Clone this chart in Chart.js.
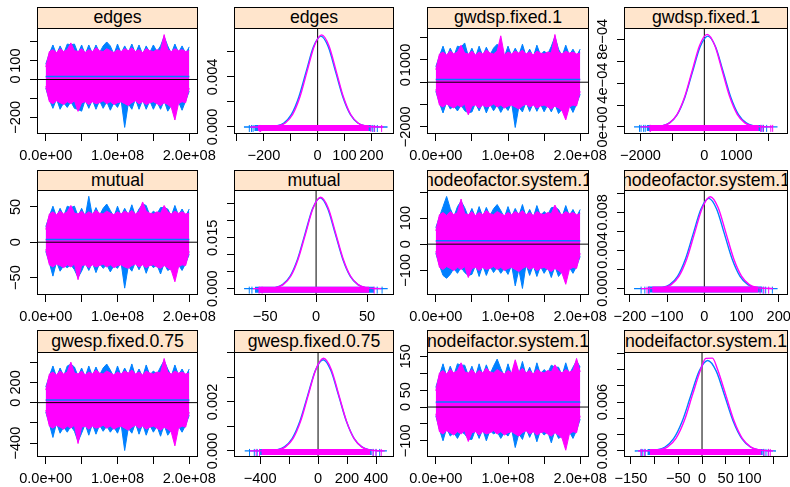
<!DOCTYPE html>
<html>
<head>
<meta charset="utf-8">
<script src="https://cdn.jsdelivr.net/npm/chart.js"></script>
<style>
  body { margin: 0; background: #fff; }
  #wrap { position: relative; width: 790px; height: 487px; overflow: hidden; }
  .strip { position: absolute; box-sizing: border-box; border: 1px solid #000; background: #ffe5cc; overflow: hidden; }
  .strip span { position: absolute; left: 50%; top: 50%; transform: translate(-50%, -52%); white-space: nowrap;
                font: 17.7px "Liberation Sans", Arial, sans-serif; color: #000; }
  canvas { position: absolute; }
</style>
</head>
<body>
<div id="wrap"></div>

<script>
// ---- trace plots: iteration axis (millions), shared by all trace panels
const TRACE_X = [0,5,10,15,20,25,30,35,40,45,50,55,60,65,70,75,80,85,90,95,100,105,110,115,120,125,130,135,140,145,150,155,160,165,170,175,180,185,190,195,200];
const TRACE_XTICKS = [0, 50, 100, 150, 200];
const TRACE_XLABELS = ['0.0e+00', '', '1.0e+08', '', '2.0e+08'];

// edges
const EDGES_BLUE_HI = [81,138,183,133,178,138,188,184,188,138, 183,133,183,138,183,143,178,199,178,133, 188,138,178,143,188,138,183,133,178,143, 183,148,178,228,178,138,188,143,178,138,173];
const EDGES_BLUE_LO = [-46,-108,-153,-103,-158,-123,-148,-118,-153,-159, -168,-108,-153,-108,-158,-113,-153,-118,-163,-123, -148,-108,-254,-128,-158,-103,-158,-108,-158,-113, -158,-118,-158,-113,-168,-138,-160,-118,-163,-113,-62];
const EDGES_MAG_HI = [66,148,158,143,163,148,158,194,153,148, 163,143,158,148,168,153,148,163,153,143, 158,148,163,153,168,148,158,143,163,153, 148,158,153,238,158,148,163,153,158,148,153];
const EDGES_MAG_LO = [-36,-118,-128,-113,-123,-133,-118,-128,-113,-169, -123,-118,-133,-118,-128,-123,-113,-128,-118,-133, -123,-118,-128,-138,-123,-113,-128,-118,-133,-123, -118,-128,-138,-123,-133,-148,-215,-128,-118,-123,-46];
const EDGES_SMOOTH = [16, 14];
const EDGES_TRACE_YTICKS = [-200, -100, 0, 100, 200];
const EDGES_TRACE_YLABELS = ['−200', '', '0', '100', ''];

const EDGES_DENS_BX = [-274,-180.5,-153,-125.5,-98,-70.5,-43,-15.5,12,39.5,67,94.5,122,149.5,177,204.5,260];
const EDGES_DENS_BY = [0,0.000016,0.00008,0.000318,0.000981,0.002354,0.004397,0.006398,0.00725,0.006398,0.004397,0.002354,0.000981,0.000318,0.00008,0.000016,0];
const EDGES_DENS_MX = [-250,-174,-147,-120,-93,-66,-39,-12,15,42,69,96,123,150,177,204,245];
const EDGES_DENS_MY = [0,0.000016,0.000082,0.000323,0.000994,0.002387,0.004458,0.006486,0.00735,0.006486,0.004458,0.002387,0.000994,0.000323,0.000082,0.000016,0];
const EDGES_RUG_CORE = [[-235, 200], [-222, 190]];
const EDGES_RUG_TICKS = [[-254,-246,-240,205,212,222], [-215,-212,198,210,238]];
const EDGES_DENS_XTICKS = [-300, -200, -100, 0, 100, 200];
const EDGES_DENS_XLABELS = ['', '−200', '', '0', '100', '200'];
const EDGES_DENS_YTICKS = [0, 0.002, 0.004, 0.006];
const EDGES_DENS_YLABELS = ['0.000', '', '0.004', ''];

// gwdsp.fixed.1
const GWDSP_BLUE_HI = [692,1174,1617,1130,1526,1174,1617,1570,1760,1174, 1526,1130,1617,1174,1570,1218,1529,1704,1484,1130, 1617,1174,1526,1218,1705,1174,1482,1130,1661,1218, 1394,1262,1608,2048,1482,1174,1661,1218,1482,1174,1484];
const GWDSP_BLUE_LO = [-408,-934,-1377,-890,-1198,-1066,-1289,-1022,-1280,-1374, -1333,-934,-1286,-934,-1377,-978,-1280,-1022,-1354,-1066, -1268,-934,-2029,-1110,-1333,-890,-1312,-934,-1306,-978, -1324,-1022,-1330,-978,-1406,-1198,-1400,-1022,-1354,-978,-540];
const GWDSP_MAG_HI = [560,1264,1352,1220,1396,1264,1352,1660,1308,1264, 1396,1220,1352,1264,1440,1308,1264,1396,2080,1220, 1352,1264,1396,1308,1440,1264,1352,1220,1396,1308, 1264,1352,1308,2138,1352,1264,1396,1308,1352,1264,1308];
const GWDSP_MAG_LO = [-320,-1024,-1112,-980,-1068,-1156,-1024,-1112,-980,-1464, -1068,-1024,-1156,-1024,-1112,-1068,-980,-1112,-1024,-1156, -1068,-1024,-1112,-1200,-1068,-980,-1112,-1024,-1156,-1068, -1024,-1112,-1200,-1068,-1156,-1288,-1690,-1112,-1024,-1068,-408];
const GWDSP_SMOOTH = [125, 118];
const GWDSP_TRACE_YTICKS = [-2000, -1000, 0, 1000, 2000];
const GWDSP_TRACE_YLABELS = ['−2000', '', '0', '1000', ''];

const GWDSP_DENS_BX = [-2200,-1570,-1330,-1090,-850,-610,-370,-130,110,350,590,830,1070,1310,1550,1790,2290];
const GWDSP_DENS_BY = [0,1.8e-6,9.2e-6,3.64e-5,1.123e-4,2.695e-4,5.034e-4,7.325e-4,8.3e-4,7.325e-4,5.034e-4,2.695e-4,1.123e-4,3.64e-5,9.2e-6,1.8e-6,0];
const GWDSP_DENS_MX = [-2000,-1555,-1320,-1085,-850,-615,-380,-145,90,325,560,795,1030,1265,1500,1735,2150];
const GWDSP_DENS_MY = [0,1.9e-6,9.4e-6,3.71e-5,1.145e-4,2.747e-4,5.131e-4,7.466e-4,8.46e-4,7.466e-4,5.131e-4,2.747e-4,1.145e-4,3.71e-5,9.4e-6,1.9e-6,0];
const GWDSP_RUG_CORE = [[-1800, 1750], [-1690, 1700]];
const GWDSP_RUG_TICKS = [[-2029,-1980,-1900,-1850,1780,1850,1950], [-1700,-1690,1760,1830,2080,2138]];
const GWDSP_DENS_XTICKS = [-2000, -1000, 0, 1000, 2000];
const GWDSP_DENS_XLABELS = ['−2000', '', '0', '1000', ''];
const GWDSP_DENS_YTICKS = [0, 2e-4, 4e-4, 6e-4, 8e-4];
const GWDSP_DENS_YLABELS = ['0e+00', '', '4e−04', '', '8e−04'];

// mutual
const MUTUAL_BLUE_HI = [22,37,51,36,48,37,51,49,51,37, 48,36,65,37,49,38,48,54,45,36, 51,37,48,38,53,37,47,54,52,38, 44,40,49,49,47,37,52,38,47,37,47];
const MUTUAL_BLUE_LO = [-13,-29,-48,-28,-41,-33,-36,-32,-39,-50, -41,-29,-40,-29,-43,-30,-37,-32,-42,-33, -37,-29,-65,-34,-41,-28,-39,-29,-44,-30, -36,-32,-45,-30,-40,-37,-44,-32,-40,-30,-17];
const MUTUAL_MAG_HI = [18,40,43,39,44,40,43,52,41,40, 44,39,43,40,45,41,40,44,41,39, 43,40,44,41,45,40,43,57,44,41, 40,43,41,52,43,40,44,41,43,40,41];
const MUTUAL_MAG_LO = [-10,-32,-35,-31,-33,-36,-32,-35,-31,-53, -33,-32,-36,-32,-35,-33,-31,-35,-32,-36, -33,-32,-35,-37,-33,-31,-35,-32,-36,-33, -32,-35,-37,-33,-36,-40,-56,-35,-32,-33,-13];
const MUTUAL_SMOOTH = [4, 3.5];
const MUTUAL_TRACE_YTICKS = [-50, 0, 50];
const MUTUAL_TRACE_YLABELS = ['−50', '0', '50'];

const MUTUAL_DENS_BX = [-70.7,-47.8,-40.4,-33,-25.6,-18.2,-10.8,-3.4,4,11.4,18.8,26.2,33.6,41,48.4,55.8,70.3];
const MUTUAL_DENS_BY = [0,0.000059,0.000297,0.001177,0.003626,0.008702,0.016254,0.023651,0.0268,0.023651,0.016254,0.008702,0.003626,0.001177,0.000297,0.000059,0];
const MUTUAL_DENS_MX = [-62,-46.9,-39.6,-32.3,-24.9,-17.6,-10.2,-2.9,4.5,11.9,19.2,26.6,33.9,41.3,48.6,56,64];
const MUTUAL_DENS_MY = [0,0.000059,0.0003,0.001185,0.003653,0.008767,0.016376,0.023828,0.027,0.023828,0.016376,0.008767,0.003653,0.001185,0.0003,0.000059,0];
const MUTUAL_RUG_CORE = [[-60, 57], [-56, 52]];
const MUTUAL_RUG_TICKS = [[-65.6,-63,60,64.8], [-56,-53,57]];
const MUTUAL_DENS_XTICKS = [-50, 0, 50];
const MUTUAL_DENS_XLABELS = ['−50', '0', '50'];
const MUTUAL_DENS_YTICKS = [0, 0.005, 0.010, 0.015, 0.020, 0.025];
const MUTUAL_DENS_YLABELS = ['0.000', '', '', '0.015', '', ''];

// nodeofactor.system.1
const NOF_BLUE_HI = [63,105,144,183,137,105,144,165,140,105, 137,102,144,105,141,109,136,152,129,102, 144,105,137,109,152,105,133,102,148,109, 125,113,140,142,133,105,148,109,133,105,133];
const NOF_BLUE_LO = [-35,-81,-120,-131,-116,-93,-112,-89,-109,-120, -116,-81,-124,-81,-120,-85,-109,-89,-112,-93, -116,-81,-160,-97,-170,-78,-120,-81,-124,-85, -112,-89,-128,-85,-124,-105,-125,-89,-112,-85,-47];
const NOF_MAG_HI = [51,113,121,110,125,113,121,173,117,113, 125,110,121,113,129,117,113,125,117,110, 121,113,125,117,129,113,121,110,125,117, 113,121,117,150,121,113,125,117,121,113,117];
const NOF_MAG_LO = [-27,-89,-97,-86,-93,-101,-89,-97,-86,-128, -93,-89,-101,-89,-97,-93,-86,-97,-89,-101, -93,-89,-97,-105,-93,-86,-97,-89,-101,-93, -89,-97,-105,-93,-101,-113,-154,-97,-89,-93,-35];
const NOF_SMOOTH = [13, 11];
const NOF_TRACE_YTICKS = [-100, 0, 100, 200];
const NOF_TRACE_YLABELS = ['−100', '0', '100', ''];

const NOF_DENS_BX = [-189,-135,-114,-93,-72,-51,-30,-9,12,33,54,75,96,117,138,159,197];
const NOF_DENS_BY = [0,0.000021,0.000105,0.000415,0.00128,0.003072,0.005737,0.008348,0.00946,0.008348,0.005737,0.003072,0.00128,0.000415,0.000105,0.000021,0];
const NOF_DENS_MX = [-170,-131,-110,-89,-68,-47,-26,-5,16,37,58,79,100,121,142,163,185];
const NOF_DENS_MY = [0,0.000021,0.000107,0.000423,0.001304,0.00313,0.005847,0.008507,0.00964,0.008507,0.005847,0.00313,0.001304,0.000423,0.000107,0.000021,0];
const NOF_RUG_CORE = [[-150, 155], [-140, 145]];
const NOF_RUG_TICKS = [[-170,-160,-150,158,165,183], [-154,-148,150,160,173]];
const NOF_DENS_XTICKS = [-200, -100, 0, 100, 200];
const NOF_DENS_XLABELS = ['−200', '−100', '0', '100', '200'];
const NOF_DENS_YTICKS = [0, 0.002, 0.004, 0.006, 0.008, 0.010];
const NOF_DENS_YLABELS = ['0.000', '', '0.004', '', '0.008', ''];

// gwesp.fixed.0.75
const GWESP_BLUE_HI = [154,262,362,253,342,262,362,380,352,262, 342,253,362,262,352,272,342,381,322,253, 362,262,342,272,382,262,332,253,372,272, 312,282,352,416,332,262,372,272,332,262,332];
const GWESP_BLUE_LO = [-94,-212,-344,-203,-302,-242,-292,-232,-283,-384, -302,-212,-322,-212,-312,-222,-283,-232,-292,-242, -302,-212,-473,-252,-302,-203,-312,-212,-322,-222, -292,-232,-332,-222,-322,-272,-330,-232,-292,-222,-124];
const GWESP_MAG_HI = [124,282,302,273,312,282,302,400,292,282, 312,273,302,282,322,292,282,312,292,273, 302,282,312,292,322,282,302,273,312,292, 282,302,292,436,302,282,312,292,302,282,292];
const GWESP_MAG_LO = [-74,-232,-252,-223,-242,-262,-232,-252,-223,-404, -242,-232,-262,-232,-252,-242,-223,-252,-232,-262, -242,-232,-252,-272,-242,-223,-252,-232,-262,-242, -232,-252,-272,-242,-262,-292,-427,-252,-232,-242,-94];
const GWESP_SMOOTH = [27, 24];
const GWESP_TRACE_YTICKS = [-400, -200, 0, 200, 400];
const GWESP_TRACE_YLABELS = ['−400', '', '0', '200', ''];

const GWESP_DENS_BX = [-506,-339.5,-286,-232.5,-179,-125.5,-72,-18.5,35,88.5,142,195.5,249,302.5,356,409.5,475];
const GWESP_DENS_BY = [0,0.0000082,0.0000413,0.000163,0.000503,0.001208,0.002256,0.003283,0.00372,0.003283,0.002256,0.001208,0.000503,0.000163,0.0000413,0.0000082,0];
const GWESP_DENS_MX = [-470,-329.5,-277,-224.5,-172,-119.5,-67,-14.5,38,90.5,143,195.5,248,300.5,353,405.5,460];
const GWESP_DENS_MY = [0,0.0000083,0.000042,0.000166,0.000511,0.001227,0.002293,0.003336,0.00378,0.003336,0.002293,0.001227,0.000511,0.000166,0.000042,0.0000083,0];
const GWESP_RUG_CORE = [[-400, 370], [-390, 360]];
const GWESP_RUG_TICKS = [[-473,-440,-420,380,400,425], [-427,-404,380,400,436]];
const GWESP_DENS_XTICKS = [-400, -200, 0, 200, 400];
const GWESP_DENS_XLABELS = ['−400', '', '0', '200', '400'];
const GWESP_DENS_YTICKS = [0, 0.001, 0.002, 0.003, 0.004];
const GWESP_DENS_YLABELS = ['0.000', '', '0.002', '', ''];

// nodeifactor.system.1
const NIF_BLUE_HI = [58,94,128,91,121,94,128,124,124,94, 121,91,128,94,125,97,121,142,114,91, 128,94,133,97,135,94,118,91,131,97, 111,101,124,118,118,94,131,97,118,137,118];
const NIF_BLUE_LO = [-26,-66,-100,-63,-86,-76,-93,-73,-80,-95, -96,-66,-93,-66,-100,-69,-80,-73,-93,-76, -86,-66,-120,-79,-96,-63,-90,-66,-103,-69, -83,-73,-106,-69,-93,-86,-100,-73,-93,-69,-36];
const NIF_MAG_HI = [48,101,108,98,111,101,108,131,104,101, 111,98,108,101,115,104,101,111,104,98, 108,101,140,104,115,101,108,98,111,104, 101,108,104,125,108,101,111,104,108,144,104];
const NIF_MAG_LO = [-20,-73,-80,-70,-76,-83,-73,-80,-70,-102, -76,-73,-83,-73,-80,-76,-70,-80,-73,-83, -76,-73,-80,-86,-76,-70,-80,-73,-83,-76, -73,-80,-86,-76,-83,-93,-128,-80,-73,-76,-26];
const NIF_SMOOTH = [15, 13];
const NIF_TRACE_YTICKS = [-100, -50, 0, 50, 100, 150];
const NIF_TRACE_YLABELS = ['−100', '', '0', '50', '', '150'];

const NIF_DENS_BX = [-142,-114,-96,-78,-60,-42,-24,-6,12,30,48,66,84,102,120,138,156];
const NIF_DENS_BY = [0,0.000024,0.000123,0.000487,0.001502,0.003604,0.006732,0.009796,0.0111,0.009796,0.006732,0.003604,0.001502,0.000487,0.000123,0.000024,0];
const NIF_DENS_MX = [-135,-107.5,-90,-72.5,-55,-37.5,-20,-2.5,8,22,32.5,50,67.5,85,102.5,120,137.5,150];
const NIF_DENS_MY = [0,0.000025,0.000126,0.0005,0.001541,0.003698,0.006908,0.010052,0.01136,0.01139,0.010052,0.006908,0.003698,0.001541,0.0005,0.000126,0.000025,0];
const NIF_RUG_CORE = [[-115, 128], [-110, 125]];
const NIF_RUG_TICKS = [[-129,-125,-120,130,135,140], [-128,-121,131,140,144]];
const NIF_DENS_XTICKS = [-150, -100, -50, 0, 50, 100, 150];
const NIF_DENS_XLABELS = ['−150', '', '−50', '0', '50', '100', ''];
const NIF_DENS_YTICKS = [0, 0.002, 0.004, 0.006, 0.008, 0.010, 0.012];
const NIF_DENS_YLABELS = ['0.000', '', '', '0.006', '', '', ''];

// ---- layout
const BLUE = '#0080ff', MAG = '#ff00ff';
const FONT = '"Liberation Sans", Arial, Helvetica, sans-serif';
const COL_L = [37, 234, 427, 624], COL_R = [197, 393, 588, 787];
const ROW_S = [7, 170, 330], ROW_T = [28, 190, 352], ROW_B = [133, 294, 456];
const YW = 44, PT = 10, PR = 34, XH = 34;

const TX = [-12.2, 212.2];
const panels = [
  {row:0, col:0, title:'edges', kind:'trace', x:TX, y:[-289, 273], xt:TRACE_XTICKS, xl:TRACE_XLABELS, yt:EDGES_TRACE_YTICKS, yl:EDGES_TRACE_YLABELS,
   bands:[EDGES_BLUE_LO, EDGES_BLUE_HI, EDGES_MAG_LO, EDGES_MAG_HI], smooth:EDGES_SMOOTH},
  {row:0, col:1, title:'edges', kind:'dens', x:[-311, 284], y:[-0.00056, 0.0079], xt:EDGES_DENS_XTICKS, xl:EDGES_DENS_XLABELS, yt:EDGES_DENS_YTICKS, yl:EDGES_DENS_YLABELS,
   curves:[[EDGES_DENS_BX, EDGES_DENS_BY], [EDGES_DENS_MX, EDGES_DENS_MY]], core:EDGES_RUG_CORE, ticks:EDGES_RUG_TICKS},
  {row:0, col:2, title:'gwdsp.fixed.1', kind:'trace', x:TX, y:[-2321, 2430], xt:TRACE_XTICKS, xl:TRACE_XLABELS, yt:GWDSP_TRACE_YTICKS, yl:GWDSP_TRACE_YLABELS,
   bands:[GWDSP_BLUE_LO, GWDSP_BLUE_HI, GWDSP_MAG_LO, GWDSP_MAG_HI], smooth:GWDSP_SMOOTH},
  {row:0, col:3, title:'gwdsp.fixed.1', kind:'dens', x:[-2514, 2618], y:[-0.65e-4, 9.04e-4], xt:GWDSP_DENS_XTICKS, xl:GWDSP_DENS_XLABELS, yt:GWDSP_DENS_YTICKS, yl:GWDSP_DENS_YLABELS,
   curves:[[GWDSP_DENS_BX, GWDSP_DENS_BY], [GWDSP_DENS_MX, GWDSP_DENS_MY]], core:GWDSP_RUG_CORE, ticks:GWDSP_RUG_TICKS},
  {row:1, col:0, title:'mutual', kind:'trace', x:TX, y:[-74.7, 73.9], xt:TRACE_XTICKS, xl:TRACE_XLABELS, yt:MUTUAL_TRACE_YTICKS, yl:MUTUAL_TRACE_YLABELS,
   bands:[MUTUAL_BLUE_LO, MUTUAL_BLUE_HI, MUTUAL_MAG_LO, MUTUAL_MAG_HI], smooth:MUTUAL_SMOOTH},
  {row:1, col:1, title:'mutual', kind:'dens', x:[-80.6, 76.5], y:[-0.00188, 0.02913], xt:MUTUAL_DENS_XTICKS, xl:MUTUAL_DENS_XLABELS, yt:MUTUAL_DENS_YTICKS, yl:MUTUAL_DENS_YLABELS,
   curves:[[MUTUAL_DENS_BX, MUTUAL_DENS_BY], [MUTUAL_DENS_MX, MUTUAL_DENS_MY]], core:MUTUAL_RUG_CORE, ticks:MUTUAL_RUG_TICKS},
  {row:1, col:2, title:'nodeofactor.system.1', kind:'trace', x:TX, y:[-195, 207.7], xt:TRACE_XTICKS, xl:TRACE_XLABELS, yt:NOF_TRACE_YTICKS, yl:NOF_TRACE_YLABELS,
   bands:[NOF_BLUE_LO, NOF_BLUE_HI, NOF_MAG_LO, NOF_MAG_HI], smooth:NOF_SMOOTH},
  {row:1, col:3, title:'nodeofactor.system.1', kind:'dens', x:[-216, 225], y:[-0.00067, 0.01034], xt:NOF_DENS_XTICKS, xl:NOF_DENS_XLABELS, yt:NOF_DENS_YTICKS, yl:NOF_DENS_YLABELS,
   curves:[[NOF_DENS_BX, NOF_DENS_BY], [NOF_DENS_MX, NOF_DENS_MY]], core:NOF_RUG_CORE, ticks:NOF_RUG_TICKS},
  {row:2, col:0, title:'gwesp.fixed.0.75', kind:'trace', x:TX, y:[-537, 500], xt:TRACE_XTICKS, xl:TRACE_XLABELS, yt:GWESP_TRACE_YTICKS, yl:GWESP_TRACE_YLABELS,
   bands:[GWESP_BLUE_LO, GWESP_BLUE_HI, GWESP_MAG_LO, GWESP_MAG_HI], smooth:GWESP_SMOOTH},
  {row:2, col:1, title:'gwesp.fixed.0.75', kind:'dens', x:[-580, 524], y:[-0.000248, 0.004037], xt:GWESP_DENS_XTICKS, xl:GWESP_DENS_XLABELS, yt:GWESP_DENS_YTICKS, yl:GWESP_DENS_YLABELS,
   curves:[[GWESP_DENS_BX, GWESP_DENS_BY], [GWESP_DENS_MX, GWESP_DENS_MY]], core:GWESP_RUG_CORE, ticks:GWESP_RUG_TICKS},
  {row:2, col:2, title:'nodeifactor.system.1', kind:'trace', x:TX, y:[-148, 163], xt:TRACE_XTICKS, xl:TRACE_XLABELS, yt:NIF_TRACE_YTICKS, yl:NIF_TRACE_YLABELS,
   bands:[NIF_BLUE_LO, NIF_BLUE_HI, NIF_MAG_LO, NIF_MAG_HI], smooth:NIF_SMOOTH},
  {row:2, col:3, title:'nodeifactor.system.1', kind:'dens', x:[-164.7, 181.5], y:[-0.000745, 0.01214], xt:NIF_DENS_XTICKS, xl:NIF_DENS_XLABELS, yt:NIF_DENS_YTICKS, yl:NIF_DENS_YLABELS,
   curves:[[NIF_DENS_BX, NIF_DENS_BY], [NIF_DENS_MX, NIF_DENS_MY]], core:NIF_RUG_CORE, ticks:NIF_RUG_TICKS}
];

function pts(xs, ys) { return xs.map((x, i) => ({x: x, y: ys[i]})); }

function traceSets(p) {
  const b = p.bands;
  return [
    {data: pts(TRACE_X, b[0]), borderColor: BLUE, borderWidth: 1, fill: false},
    {data: pts(TRACE_X, b[1]), borderColor: BLUE, backgroundColor: BLUE, borderWidth: 1, fill: '-1'},
    {data: pts(TRACE_X, b[2]), borderColor: MAG, borderWidth: 1, fill: false},
    {data: pts(TRACE_X, b[3]), borderColor: MAG, backgroundColor: MAG, borderWidth: 1, fill: '-1'},
    {data: [{x: 0, y: p.smooth[1]}, {x: 200, y: p.smooth[1]}], borderColor: MAG, borderWidth: 1.5, fill: false},
    {data: [{x: 0, y: p.smooth[0]}, {x: 200, y: p.smooth[0]}], borderColor: BLUE, borderWidth: 1.5, fill: false},
    {data: [{x: p.x[0], y: 0}, {x: p.x[1], y: 0}], borderColor: '#000', borderWidth: 1, fill: false}
  ];
}

// pxY: value of one pixel on the y axis, used to hang the rug just under the baseline
function densSets(p, pxY) {
  const sets = [{data: [{x: 0, y: p.y[0]}, {x: 0, y: p.y[1]}], borderColor: '#000', borderWidth: 1, fill: false}];
  [BLUE, MAG].forEach((c, k) => {
    sets.push({data: pts(p.curves[k][0], p.curves[k][1]), borderColor: c, borderWidth: 1.4, fill: false, cubicInterpolationMode: 'monotone'});
    sets.push({data: [{x: p.core[k][0], y: -pxY}, {x: p.core[k][1], y: -pxY}], borderColor: c, borderWidth: 6, fill: false});
    sets.push({data: p.ticks[k].map(v => ({x: v, y: -1.5 * pxY})), showLine: false, borderColor: c,
               pointRadius: 3.5, pointStyle: 'line', pointRotation: 90, pointBorderColor: c, pointBorderWidth: 1});
  });
  return sets;
}

function axis(min, max, tickVals, labels, showLabels, horiz) {
  return {
    type: 'linear', min: min, max: max,
    afterBuildTicks: s => { s.ticks = tickVals.map(v => ({value: v})); },
    afterFit: s => { if (horiz) s.height = XH; else s.width = YW; },
    grid: {drawOnChartArea: false, drawTicks: true, tickLength: 7, color: '#000', lineWidth: 1},
    border: {display: false},
    ticks: {display: showLabels, autoSkip: false, maxRotation: 0, minRotation: 0, padding: 6, color: '#000',
            font: {family: FONT, size: 14.6}, callback: (v, i) => labels[i]}
  };
}

// panel frame + rotated y labels (R style)
const framePlugin = {
  id: 'frame',
  afterDraw(chart, args, opts) {
    const ctx = chart.ctx, a = chart.chartArea, ys = chart.scales.y;
    ctx.save();
    ctx.strokeStyle = '#000';
    ctx.lineWidth = 1;
    ctx.strokeRect(a.left + 0.5, a.top + 0.5, a.right - a.left - 1, a.bottom - a.top - 1);
    ctx.fillStyle = '#000';
    ctx.font = '14.6px ' + FONT;
    ctx.textAlign = 'center';
    ctx.textBaseline = 'middle';
    ys.ticks.forEach((t, i) => {
      const lab = opts.labels[i];
      if (!lab) return;
      ctx.save();
      ctx.translate(a.left - 21, ys.getPixelForValue(t.value));
      ctx.rotate(-Math.PI / 2);
      ctx.fillText(lab, 0, 0);
      ctx.restore();
    });
    ctx.restore();
  }
};

const wrap = document.getElementById('wrap');

panels.forEach(p => {
  const L = COL_L[p.col], R = COL_R[p.col], T = ROW_T[p.row], B = ROW_B[p.row];
  const w = R - L + 1, h = B - T + 1;

  const strip = document.createElement('div');
  strip.className = 'strip';
  strip.style.left = L + 'px';
  strip.style.top = ROW_S[p.row] + 'px';
  strip.style.width = w + 'px';
  strip.style.height = (T - ROW_S[p.row] + 1) + 'px';
  const span = document.createElement('span');
  span.textContent = p.title;
  strip.appendChild(span);
  wrap.appendChild(strip);

  const cv = document.createElement('canvas');
  cv.width = YW + w + PR;
  cv.height = PT + h + XH;
  cv.style.left = (L - YW) + 'px';
  cv.style.top = (T - PT) + 'px';
  wrap.appendChild(cv);

  const sets = p.kind === 'trace' ? traceSets(p) : densSets(p, (p.y[1] - p.y[0]) / h);
  sets.forEach((s, i) => { s.order = sets.length - i; });

  new Chart(cv, {
    type: 'line',
    data: {datasets: sets},
    options: {
      responsive: false, animation: false, events: [], devicePixelRatio: 1,
      layout: {padding: {top: PT, right: PR, left: 0, bottom: 0}},
      elements: {point: {radius: 0}, line: {tension: 0}},
      plugins: {legend: {display: false}, tooltip: {enabled: false}, colors: {enabled: false}, frame: {labels: p.yl}},
      scales: {
        x: axis(p.x[0], p.x[1], p.xt, p.xl, true, true),
        y: axis(p.y[0], p.y[1], p.yt, p.yl, false, false)
      }
    },
    plugins: [framePlugin]
  });
});
</script>
</body>
</html>
